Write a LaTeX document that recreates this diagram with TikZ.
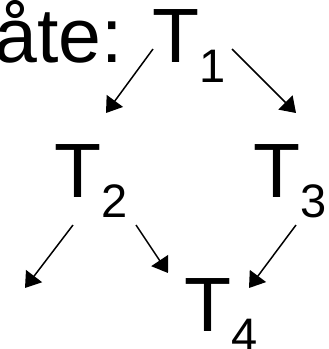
\documentclass[tikz,border=0pt]{standalone}
\usepackage{fontspec}
\setmainfont{Liberation Sans}
\usetikzlibrary{arrows.meta, calc}

\newcommand{\tsub}[1]{T\raisebox{-20pt}{\fontsize{47}{47}\selectfont #1}}

\begin{document}
\begin{tikzpicture}[
    x=1pt, y=-1pt,
    every node/.style={font=\fontsize{77}{80}\selectfont, inner sep=0pt},
    task/.style={anchor=base west},
    arrow/.style={-{Triangle[length=15pt, width=20pt]}, line width=1.5pt}
]
\useasboundingbox (0,0) rectangle (329,349);

% Tekst foran grafen
\node[anchor=base east] (txt) at (123,62) {måte:};

% Fire oppgaver
\node[task] (t1) at (152,62) {\tsub{1}};
\node[task] (t2) at (54,197) {\tsub{2}};
\node[task] (t3) at (253,197) {\tsub{3}};
\node[task] (t4) at (184,331) {\tsub{4}};

% Pil ut av bildet
\coordinate (ut) at (25,288);

% Avhengigheter
\draw[arrow] ($(t1.base west)+(1,-13)$) -- ($(t2.base west)+(52,-84)$);
\draw[arrow] ($(t1.base west)+(80,-13)$) -- ($(t3.base west)+(43,-84)$);
\draw[arrow] ($(t2.base west)+(19,28)$) -- (ut);
\draw[arrow] ($(t2.base west)+(82,28)$) -- ($(t4.base west)+(-16,-58)$);
\draw[arrow] ($(t3.base west)+(43,28)$) -- ($(t4.base west)+(65,-43)$);

\end{tikzpicture}
\end{document}
